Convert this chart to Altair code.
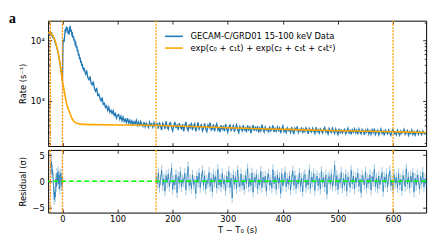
import altair as alt
import pandas as pd

# ---------------- values ----------------
x_domain = [-26, 660]
rate_domain = [180, 21300]
resid_domain = [-6, 6]
x_ticks = [0, 100, 200, 300, 400, 500, 600]
rate_ticks = [200, 300, 400, 500, 600, 700, 800, 900, 1000, 2000, 3000, 4000,
              5000, 6000, 7000, 8000, 9000, 10000, 20000]
rate_major = [1000, 10000]
resid_ticks = [-5, 0, 5]
zero_level = [0]

legend_labels = ["GECAM-C/GRD01 15-100 keV Data",
                 "exp(c\u2080 + c\u2081t) + exp(c\u2082 + c\u2083t + c\u2084t\u00b2)"]
legend_colors = ["#1f77b4", "orange"]

vline_t = [-22, 0, 170, 600]
vline_color = ["darkorange", "darkorange", "orange", "orange"]

# light curve (rate, s^-1)
pre_t = list(range(-25, 1))
pre_rate = [12500, 13000, 12000, 13500, 12800, 13800, 12200, 11500, 11800, 11000,
            10500, 9800, 9000, 8600, 8000, 7500, 6900, 6300, 5600, 5000,
            4400, 3900, 3300, 2900, 2500, 2150]
peak_t = list(range(1, 41))
peak_rate = [9000, 10500, 9500, 12000, 15500, 13500, 17000, 15000, 16500, 13000,
             14500, 12500, 16000, 17500, 14000, 15000, 12500, 13000, 11000, 11800,
             9800, 10500, 8800, 9200, 7600, 8200, 6600, 7100, 5600, 6000,
             4900, 5300, 4300, 4600, 3800, 4100, 3400, 3600, 3100, 3300]
decay_t = list(range(42, 171, 2))
decay_rate = [2800, 3100, 2450, 2250, 2550, 1950, 1850, 2100, 1600, 1450,
              1650, 1250, 1300, 1100, 1000, 1150, 880, 920, 780, 830,
              700, 790, 650, 700, 620, 690, 560, 640, 520, 580,
              600, 500, 560, 470, 540, 460, 500, 440, 520, 430,
              480, 420, 470, 405, 455, 420, 480, 395, 450, 385,
              460, 410, 380, 445, 375, 430, 400, 365, 445, 390,
              420, 370, 440, 385, 415]
tail_t = list(range(172, 661, 2))
tail_rate = [420, 350, 445, 380, 330, 430, 400, 345, 465, 370,
             340, 420, 440, 365, 320, 395, 450, 355, 410, 330,
             430, 370, 345, 415, 315, 390, 450, 360, 325, 410,
             350, 440, 330, 385, 420, 315, 365, 445, 340, 380,
             405, 320, 355, 425, 345, 310, 400, 365, 440, 330,
             345, 410, 315, 380, 420, 330, 360, 305, 400, 340,
             375, 315, 415, 350, 305, 370, 400, 325, 350, 390,
             310, 360, 405, 335, 300, 380, 345, 320, 400, 330,
             355, 305, 395, 335, 370, 295, 350, 400, 320, 365,
             330, 385, 300, 355, 320, 405, 340, 305, 370, 330,
             345, 300, 380, 320, 340, 395, 305, 350, 315, 370,
             325, 360, 295, 340, 385, 310, 335, 300, 360, 325,
             340, 300, 370, 315, 290, 355, 330, 380, 300, 335,
             320, 365, 295, 340, 310, 360, 330, 285, 350, 320,
             305, 355, 320, 290, 370, 310, 335, 295, 345, 320,
             295, 340, 365, 305, 325, 285, 350, 315, 300, 355,
             315, 290, 345, 310, 280, 350, 300, 330, 295, 320,
             340, 285, 310, 355, 295, 325, 280, 335, 305, 345,
             295, 330, 280, 345, 305, 285, 340, 320, 275, 330,
             305, 340, 285, 320, 280, 335, 300, 350, 280, 310,
             330, 275, 305, 345, 290, 315, 270, 330, 305, 285,
             330, 295, 270, 320, 340, 285, 305, 275, 330, 295,
             270, 320, 290, 310, 340, 280, 300, 325, 270, 310,
             290, 330, 280, 310, 270, 300, 325, 280, 315, 295,
             275, 320, 295, 285, 305]

# fitted model curve, read point by point
model_t = [-26, -22, -18, -14, -10, -7, -4, -2, 0, 3, 6, 9, 12, 14, 17, 20, 23, 26,
           30, 38, 60, 100, 173, 250, 300, 405, 500, 600, 660]
model_rate = [13300, 13500, 12300, 10300, 7700, 5700, 3900, 2900, 2110, 1500, 1050,
              800, 680, 608, 520, 470, 440, 428, 418, 410, 406, 402, 394, 375, 360,
              339, 322, 310, 301]

# residuals (sigma)
res1_t = list(range(-21, 1))
res1 = [2.5, 3.8, 1.5, 2.2, 0.5, -1.5, -3.5, -2.0, -3.0, 0.5, -1.0,
        1.5, 0.2, 1.8, -0.5, 1.2, -1.5, 0.8, 1.5, -0.8, 0.6, -0.3]
res2_t = list(range(170, 661, 2))
res2 = [0.8, -0.5, 1.6, -1.2, 0.3, 2.1, -0.8, 0.5, -1.9, 1.1,
        -0.3, 1.4, -1.0, 0.6, 2.5, -1.6, 0.2, -0.7, 1.3, -2.2,
        0.9, -0.4, 1.8, -1.1, 0.4, -0.2, 1.5, -1.7, 0.7, 2.8,
        -0.9, 0.3, -1.4, 1.2, -0.6, 0.1, -2.4, 1.0, -0.3, 1.6,
        -1.2, 0.5, 2.0, -0.8, 1.1, -1.5, 0.2, -0.4, 1.7, -1.0,
        0.6, -2.0, 1.3, -0.2, 0.9, -1.3, 2.3, -0.7, 0.4, -1.1,
        1.5, -0.5, 0.2, -1.8, 1.0, -0.3, 1.9, -1.2, 0.6, -3.2,
        1.2, -0.6, 0.8, -1.4, 2.1, -0.1, -1.0, 1.4, -0.8, 0.3,
        -1.6, 1.1, -0.4, 2.4, -1.1, 0.5, -0.9, 1.6, -2.1, 0.7,
        -0.2, 1.3, -1.5, 0.4, -0.7, 1.9, -1.2, 0.8, -0.3, 1.0,
        -1.9, 0.6, 1.4, -0.8, 0.2, -1.3, 2.2, -0.5, 0.9, -1.6,
        1.2, -0.4, 0.7, -2.3, 1.5, -0.9, 0.3, 1.8, -1.1, 0.5,
        -0.6, 1.0, -1.7, 0.4, 2.0, -0.8, 1.1, -1.4, 0.2, -0.5,
        1.6, -1.0, 0.6, -2.0, 0.9, 1.3, -1.2, 0.3, -0.7, 2.2,
        -1.4, 0.8, -0.2, 1.5, -1.8, 0.4, 1.0, -0.9, 0.6, -1.5,
        1.9, -0.3, 0.7, -1.1, 1.2, -2.5, 0.5, 0.9, -0.6, 1.4,
        -1.0, 0.2, 3.0, -0.9, 1.1, -1.6, 0.4, -0.3, 1.7, -1.3,
        0.6, -0.8, 1.3, -1.9, 0.8, 0.1, -1.2, 2.1, -0.5, 1.0,
        -1.5, 0.7, -0.2, 1.6, -1.0, 0.4, -2.2, 1.1, 0.3, -0.7,
        1.8, -1.3, 0.5, -0.4, 1.2, -1.7, 0.9, -0.1, 2.3, -1.0,
        0.6, -1.4, 1.0, -0.6, 0.3, 1.7, -2.0, 0.8, -0.3, 1.4,
        -1.1, 0.5, 2.0, -0.9, 0.2, -1.6, 1.3, -0.4, 0.7, -1.2,
        1.5, -0.7, 0.4, -1.8, 1.1, 0.2, -1.0, 2.4, -0.5, 0.8,
        -1.3, 1.0, -0.2, 1.6, -2.1, 0.6, -0.8, 1.2, 0.3, -1.5,
        0.9, -0.4, 1.7, -1.1, 0.5, -0.6]

# ---------------- tables ----------------
lc_t = pre_t + peak_t + decay_t + tail_t
lc = pd.DataFrame({"t": lc_t, "rate": pre_rate + peak_rate + decay_rate + tail_rate,
                   "series": [legend_labels[0]] * len(lc_t)})
model = pd.DataFrame({"t": model_t, "rate": model_rate,
                      "series": [legend_labels[1]] * len(model_t)})
res = pd.DataFrame({"t": res1_t + res2_t, "r": res1 + res2,
                    "seg": ["pre"] * len(res1_t) + ["post"] * len(res2_t)})
vl = pd.DataFrame({"t": vline_t, "c": vline_color})
zl = pd.DataFrame({"z": zero_level})
tag = pd.DataFrame({"s": ["a"]})

# ---------------- styling ----------------
F = "DejaVu Sans"
FS = 8.5
W, H1, H2 = 386, 128, 64
MAJOR_TEST = "datum.value == 1000 || datum.value == 10000"

xsc = alt.Scale(domain=x_domain, nice=False, zero=False)
ysc = alt.Scale(type="log", domain=rate_domain, nice=False)
rsc = alt.Scale(domain=resid_domain, nice=False, zero=False)
csc = alt.Scale(domain=legend_labels, range=legend_colors)
leg = alt.Legend(title=None, orient="none", legendX=121, legendY=8.5,
                 symbolType="M-1.4,0L1.4,0", symbolSize=169, symbolStrokeWidth=1.6,
                 labelFont=F, labelFontSize=FS, labelColor="black", labelLimit=300,
                 labelOffset=9.5, rowPadding=0, padding=0)


def tick_axis(orient, offset, values, minor_test=None):
    kw = dict(orient=orient, offset=offset, values=values, labels=False,
              domain=False, grid=False, ticks=True, tickColor="black",
              tickWidth=0.8, title=None)
    if minor_test:
        kw["tickSize"] = {"condition": {"test": minor_test, "value": 3.5}, "value": 2}
    else:
        kw["tickSize"] = 3.5
    return alt.Axis(**kw)


# ---------------- top panel ----------------
blue = alt.Chart(lc).mark_line(strokeWidth=1.3).encode(
    x=alt.X("t:Q", scale=xsc, axis=tick_axis("top", -H1, x_ticks)),
    y=alt.Y("rate:Q", scale=ysc,
            axis=alt.Axis(orient="left", values=rate_major, ticks=False, tickSize=0,
                          labelPadding=4, domain=False, grid=False,
                          labelExpr="datum.value == 10000 ? '10\u2074' : '10\u00b3'",
                          title="Rate (s\u207b\u00b9)", titlePadding=3)),
    color=alt.Color("series:N", scale=csc, legend=leg),
)
orange = alt.Chart(model).mark_line(strokeWidth=1.6, interpolate="monotone").encode(
    x=alt.X("t:Q", scale=xsc, axis=tick_axis("bottom", -H1, x_ticks)),
    y=alt.Y("rate:Q", scale=ysc, axis=tick_axis("right", -W, rate_ticks, MAJOR_TEST)),
    color=alt.Color("series:N", scale=csc, legend=leg),
)
ghost_top = alt.Chart(model).mark_line(opacity=0).encode(
    x=alt.X("t:Q", scale=xsc, axis=None),
    y=alt.Y("rate:Q", scale=ysc, axis=tick_axis("left", -W, rate_ticks, MAJOR_TEST)),
)
vl_top = alt.Chart(vl).mark_rule(strokeDash=[2, 1.3], strokeWidth=1.4).encode(
    x=alt.X("t:Q", scale=xsc, axis=None),
    stroke=alt.Stroke("c:N", scale=None, legend=None),
)
panel_tag = alt.Chart(tag).mark_text(font="Liberation Serif", fontWeight="bold",
                                     fontSize=14, align="left",
                                     baseline="top").encode(
    x=alt.value(-40), y=alt.value(-8.5), text="s:N")

top = alt.layer(blue, orange, ghost_top, vl_top, panel_tag).resolve_axis(
    x="independent", y="independent").properties(width=W, height=H1)

# ---------------- residual panel ----------------
bars = alt.Chart(res).transform_calculate(
    lo="datum.r - 1", hi="datum.r + 1").mark_rule(
    color="#1f77b4", opacity=0.42, strokeWidth=1).encode(
    x=alt.X("t:Q", scale=xsc,
            axis=alt.Axis(orient="bottom", values=x_ticks, ticks=False, tickSize=0,
                          labelPadding=2, domain=False, grid=False,
                          title="T \u2212 T\u2080 (s)", titlePadding=3)),
    y=alt.Y("lo:Q", scale=rsc,
            axis=alt.Axis(orient="left", values=resid_ticks, ticks=False, tickSize=0,
                          labelPadding=4, domain=False, grid=False,
                          title="Residual (\u03c3)", titlePadding=5)),
    y2="hi:Q",
)
rline = alt.Chart(res).mark_line(color="#1f77b4", strokeWidth=0.8, opacity=0.9).encode(
    x=alt.X("t:Q", scale=xsc, axis=tick_axis("top", -H2, x_ticks)),
    y=alt.Y("r:Q", scale=rsc, axis=tick_axis("right", -W, resid_ticks)),
    detail="seg:N",
)
zero = alt.Chart(zl).mark_rule(color="#00ff00", strokeDash=[5, 3], strokeWidth=1.4).encode(
    y=alt.Y("z:Q", scale=rsc, axis=None))
ghost_bot = alt.Chart(res).mark_line(opacity=0).encode(
    x=alt.X("t:Q", scale=xsc, axis=tick_axis("bottom", -H2, x_ticks)),
    y=alt.Y("r:Q", scale=rsc, axis=tick_axis("left", -W, resid_ticks)),
    detail="seg:N",
)
vl_bot = alt.Chart(vl).mark_rule(strokeDash=[2, 1.3], strokeWidth=1.4).encode(
    x=alt.X("t:Q", scale=xsc, axis=None),
    stroke=alt.Stroke("c:N", scale=None, legend=None),
)

bottom = alt.layer(bars, rline, zero, ghost_bot, vl_bot).resolve_axis(
    x="independent", y="independent").properties(width=W, height=H2)

chart = alt.vconcat(top, bottom, spacing=0).properties(
    padding={"left": 0, "top": 1.5, "right": 2, "bottom": 0}
).configure_view(stroke="black", strokeWidth=1).configure_axis(
    labelFont=F, labelFontSize=FS, titleFont=F, titleFontSize=FS,
    titleFontWeight="normal", labelColor="black", titleColor="black",
)

chart.save("out.html", embed_options={"renderer": "svg", "actions": False})
